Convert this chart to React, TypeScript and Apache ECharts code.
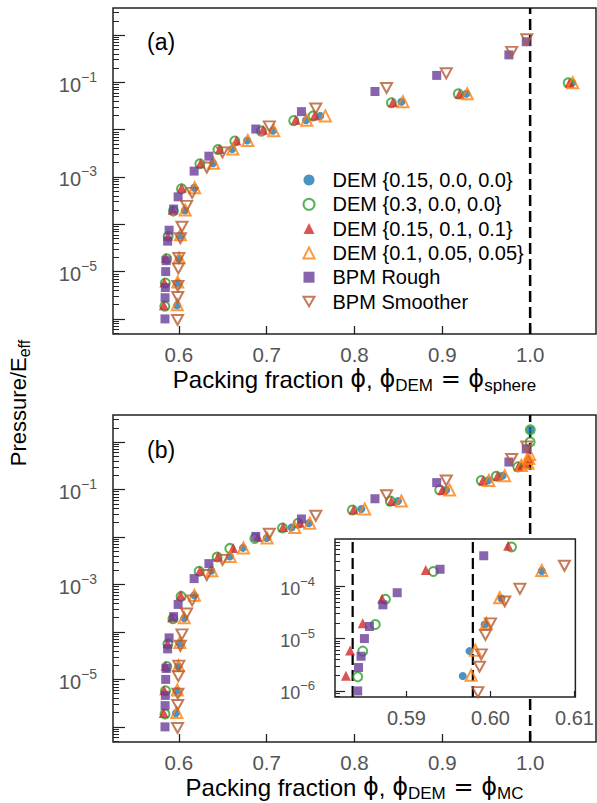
import React, { useEffect, useRef } from "react";
import * as echarts from "echarts";

// ---------- tick values / labels ----------
const xTicksMain = [0.6, 0.7, 0.8, 0.9, 1.0];
const xTicksInset = [0.59, 0.6, 0.61];
const yMajorMain = [1e-6, 1e-5, 1e-4, 1e-3, 1e-2, 1e-1, 1];
const yLabelMain = [1e-5, 1e-3, 1e-1];
const yMajorInset = [1e-6, 1e-5, 1e-4];
const yLabelInset = [1e-6, 1e-5, 1e-4];
const minorMultipliers = [2, 3, 4, 5, 6, 7, 8, 9];
const minorDecades = [1e-7, 1e-6, 1e-5, 1e-4, 1e-3, 1e-2, 1e-1, 1];

// reference lines
const phiLimit = [1.0];
const insetJamming = [0.5836, 0.5979];

// ---------- series names ----------
const names = [
  "DEM {0.15, 0.0, 0.0}",
  "DEM {0.3, 0.0, 0.0}",
  "DEM {0.15, 0.1, 0.1}",
  "DEM {0.1, 0.05, 0.05}",
  "BPM Rough",
  "BPM Smoother",
];

// ---------- DEM {0.15, 0.0, 0.0} (blue) ----------
const blueP = [1.93e-6, 5.75e-6, 1.86e-5, 5.8e-5, 1.95e-4, 5.9e-4, 1.95e-3, 3.9e-3, 5.9e-3, 9.5e-3, 1.58e-2, 1.95e-2, 3.9e-2, 5.75e-2, 9.8e-2, 0.155, 0.195, 0.31, 1.82];
const bluePhiMC = [0.5967, 0.5975, 0.5993, 0.6013, 0.6061, 0.6174, 0.637, 0.658, 0.673, 0.7, 0.7284, 0.748, 0.8078, 0.8495, 0.9045, 0.952, 0.9686, 0.989, 1.0002];
const bluePhiSphere = [0.598, 0.5985, 0.6, 0.6015, 0.6068, 0.6174, 0.639, 0.6608, 0.6777, 0.707, 0.7448, 0.761, 0.8534, 0.9273, 1.0479];

// ---------- DEM {0.3, 0.0, 0.0} (green) ----------
const greenP = [1.86e-6, 5.75e-6, 1.86e-5, 5.6e-5, 1.9e-4, 5.6e-4, 1.9e-3, 3.8e-3, 5.75e-3, 9.3e-3, 1.55e-2, 1.95e-2, 3.7e-2, 5.7e-2, 9.8e-2, 0.155, 0.19, 0.3, 1.0, 1.82];
const greenPhiMC = [0.5842, 0.5848, 0.5863, 0.5875, 0.5932, 0.6025, 0.6231, 0.6436, 0.658, 0.6865, 0.718, 0.7357, 0.7976, 0.8408, 0.897, 0.9444, 0.9614, 0.986, 1.0, 1.0002];
const greenPhiSphere = [0.584, 0.5846, 0.5862, 0.5878, 0.5938, 0.603, 0.6239, 0.6445, 0.6637, 0.694, 0.7308, 0.7528, 0.842, 0.9182, 1.0433];

// ---------- DEM {0.15, 0.1, 0.1} (red) ----------
const redP = [1.95e-6, 5.9e-6, 1.95e-5, 5.75e-5, 2.04e-4, 5.9e-4, 1.95e-3, 3.9e-3, 5.9e-3, 1.0e-2, 1.62e-2, 2.0e-2, 3.8e-2, 5.75e-2, 9.8e-2, 0.155, 0.195, 0.31, 0.36, 0.45];
const redPhiMC = [0.5828, 0.5833, 0.5848, 0.5871, 0.5923, 0.6021, 0.624, 0.6447, 0.6618, 0.69, 0.7187, 0.7377, 0.799, 0.842, 0.9, 0.9462, 0.963, 0.987, 0.995, 0.998];
const redPhiSphere = [0.5829, 0.5835, 0.5851, 0.5876, 0.593, 0.6032, 0.6247, 0.6466, 0.6656, 0.6959, 0.7331, 0.7547, 0.8438, 0.9197, 1.0448];

// ---------- DEM {0.1, 0.05, 0.05} (orange) ----------
const orangeP = [2.0e-6, 6.0e-6, 1.95e-5, 6.0e-5, 2.0e-4, 5.9e-4, 1.95e-3, 3.9e-3, 5.9e-3, 9.5e-3, 1.58e-2, 1.95e-2, 3.9e-2, 5.75e-2, 9.8e-2, 0.155, 0.195, 0.32, 0.36, 0.45, 0.55];
const orangePhiMC = [0.5977, 0.5982, 0.5995, 0.6011, 0.6061, 0.6178, 0.6375, 0.6585, 0.6735, 0.7005, 0.732, 0.749, 0.8116, 0.8534, 0.9083, 0.953, 0.971, 0.99, 0.9975, 0.9985, 0.9994];
const orangePhiSphere = [0.5982, 0.5987, 0.6003, 0.6018, 0.6072, 0.618, 0.6395, 0.6615, 0.6785, 0.708, 0.7455, 0.7668, 0.8552, 0.9284, 1.0485];

// ---------- BPM Rough (purple) ----------
const roughP = [1.0e-6, 2.8e-6, 4.6e-6, 1.0e-5, 1.7e-5, 4.4e-5, 7.5e-5, 2.1e-4, 3.8e-4, 1.33e-3, 2.75e-3, 1.03e-2, 2.4e-2, 6.4e-2, 0.14, 0.38, 0.72];
const roughPhi = [0.5842, 0.5843, 0.5846, 0.585, 0.5856, 0.5872, 0.5889, 0.594, 0.5992, 0.6174, 0.6342, 0.6876, 0.7396, 0.8233, 0.8936, 0.9758, 0.9956];

// ---------- BPM Smoother (brown) ----------
const smoothP = [9.5e-7, 2.9e-6, 5.0e-6, 1.17e-5, 1.95e-5, 5.1e-5, 8.9e-5, 2.45e-4, 4.6e-4, 1.58e-3, 3.3e-3, 1.17e-2, 2.8e-2, 7.6e-2, 0.155, 0.44, 0.81];
const smoothPhi = [0.5985, 0.5987, 0.5989, 0.5994, 0.6, 0.6017, 0.6035, 0.6088, 0.6151, 0.6318, 0.6497, 0.703, 0.7559, 0.8365, 0.9045, 0.979, 0.9962];

const FONT = "'Liberation Sans', Arial, Helvetica, sans-serif";
const MATH = "'DejaVu Sans', 'Liberation Sans', sans-serif";
const LABEL_GRAY = "#555";
const FRAME = "#222";

function pairs(xs: number[], ys: number[]) {
  return xs.map((x, i) => [x, ys[i]]);
}

const markerStyles: any[] = [
  { symbol: "circle", symbolSize: 8, itemStyle: { color: "#1f77b4" } },
  { symbol: "circle", symbolSize: 9, itemStyle: { color: "rgba(0,0,0,0)", borderColor: "#2ca02c", borderWidth: 2 } },
  { symbol: "triangle", symbolSize: 10, itemStyle: { color: "#d62728" } },
  { symbol: "triangle", symbolSize: 11, itemStyle: { color: "rgba(0,0,0,0)", borderColor: "#ff7f0e", borderWidth: 2 } },
  { symbol: "rect", symbolSize: 9, itemStyle: { color: "#6a3d9a" } },
  { symbol: "path://M0,0L12,0L6,10.4Z", symbolSize: [11, 10], itemStyle: { color: "rgba(0,0,0,0)", borderColor: "#b55a30", borderWidth: 2 } },
];

function minorValues(lo: number, hi: number) {
  const out: number[] = [];
  minorDecades.forEach((d) => minorMultipliers.forEach((m) => {
    const v = d * m;
    if (v > lo && v < hi) out.push(v);
  }));
  return out;
}

const supRich = {
  b: { fontSize: 20, color: LABEL_GRAY, fontFamily: FONT, lineHeight: 25, verticalAlign: "bottom" },
  e: { fontSize: 14, color: LABEL_GRAY, fontFamily: FONT, lineHeight: 15, verticalAlign: "top" },
};
const supRichInset = {
  b: { fontSize: 18, color: LABEL_GRAY, fontFamily: FONT, lineHeight: 23, verticalAlign: "bottom" },
  e: { fontSize: 13, color: LABEL_GRAY, fontFamily: FONT, lineHeight: 14, verticalAlign: "top" },
};
function powLabel(v: number) {
  const e = Math.round(Math.log10(v));
  return "{b|10}{e|\u2212" + (-e) + "}";
}

const titleRich = {
  m: { fontSize: 24, fontFamily: FONT, color: "#000", lineHeight: 30 },
  p: { fontSize: 24, fontFamily: MATH, color: "#000", lineHeight: 30 },
  s: { fontSize: 17, fontFamily: FONT, color: "#000", lineHeight: 20, verticalAlign: "bottom" },
};
const yTitleRich = {
  m: { fontSize: 22, fontFamily: FONT, color: "#000", lineHeight: 28 },
  s: { fontSize: 16, fontFamily: FONT, color: "#000", lineHeight: 19, verticalAlign: "bottom" },
};

export default function App() {
  const ref = useRef<HTMLDivElement>(null);
  useEffect(() => {
    document.body.style.margin = "0";
    const chart = echarts.init(ref.current!, undefined, { renderer: "svg" });

    const mainYMin = 4.8e-7, mainYMax = 3.72;
    const insetYMin = 7.67e-7, insetYMax = 7.94e-4;

    const xMain = (gridIndex: number, name: string) => ({
      type: "value", gridIndex, min: 0.525, max: 1.075,
      axisLine: { show: false },
      splitLine: { show: false },
      axisTick: { show: true, inside: true, length: 8, customValues: xTicksMain, lineStyle: { color: FRAME, width: 1.3 } },
      axisLabel: { show: true, customValues: xTicksMain, margin: 10, fontSize: 20.5, color: LABEL_GRAY, fontFamily: FONT, formatter: (v: number) => v.toFixed(1) },
      name, nameLocation: "middle", nameGap: 30,
      nameTextStyle: { fontSize: 24, color: "#000", fontFamily: FONT, rich: titleRich },
    });
    const yMajor = (gridIndex: number, min: number, max: number, majors: number[], labels: number[], len: number, margin: number, rich: any, z?: number) => ({
      type: "log", logBase: 10, gridIndex, min, max, position: "left",
      axisLine: { show: false }, splitLine: { show: false }, minorTick: { show: false },
      axisTick: { show: true, inside: true, length: len, customValues: majors, lineStyle: { color: FRAME, width: 1.2 } },
      axisLabel: { show: true, customValues: labels, margin, formatter: powLabel, rich },
      ...(z !== undefined ? { z } : {}),
    });
    const yMinor = (gridIndex: number, min: number, max: number, len: number, z?: number) => ({
      type: "log", logBase: 10, gridIndex, min, max, position: "left",
      axisLine: { show: false }, splitLine: { show: false },
      axisTick: { show: true, inside: true, length: len, customValues: minorValues(min, max), lineStyle: { color: FRAME, width: 1.0 } },
      axisLabel: { show: false },
      ...(z !== undefined ? { z } : {}),
    });

    const dashStyle = { type: [11, 5], color: "#000", width: 2.5 };

    const panelA = [
      pairs(bluePhiSphere, blueP), pairs(greenPhiSphere, greenP), pairs(redPhiSphere, redP),
      pairs(orangePhiSphere, orangeP), pairs(roughPhi, roughP), pairs(smoothPhi, smoothP),
    ];
    const panelB = [
      pairs(bluePhiMC, blueP), pairs(greenPhiMC, greenP), pairs(redPhiMC, redP),
      pairs(orangePhiMC, orangeP), pairs(roughPhi, roughP), pairs(smoothPhi, smoothP),
    ];

    const series: any[] = [];
    phiLimit.forEach((v, k) => {
      series.push({ type: "line", name: "limitA" + k, xAxisIndex: 0, yAxisIndex: 0, data: [[v, mainYMin], [v, mainYMax]], symbol: "none", lineStyle: dashStyle, z: 1, silent: true, emphasis: { disabled: true } });
      series.push({ type: "line", name: "limitB" + k, xAxisIndex: 1, yAxisIndex: 2, data: [[v, mainYMin], [v, mainYMax]], symbol: "none", lineStyle: dashStyle, z: 1, silent: true, emphasis: { disabled: true } });
    });
    insetJamming.forEach((v, k) => {
      series.push({ type: "line", name: "jam" + k, xAxisIndex: 2, yAxisIndex: 4, data: [[v, insetYMin], [v, insetYMax]], symbol: "none", lineStyle: { ...dashStyle, width: 2.2 }, z: 12, silent: true, emphasis: { disabled: true } });
    });

    panelA.forEach((data, i) => series.push({
      type: "scatter", name: names[i], xAxisIndex: 0, yAxisIndex: 0, data, ...markerStyles[i],
      z: 2, emphasis: { disabled: true },
    }));
    panelB.forEach((data, i) => series.push({
      type: "scatter", name: names[i], xAxisIndex: 1, yAxisIndex: 2, data, ...markerStyles[i],
      z: 2, emphasis: { disabled: true },
    }));
    panelB.forEach((data, i) => series.push({
      type: "scatter", name: names[i], xAxisIndex: 2, yAxisIndex: 4, data, ...markerStyles[i],
      z: 13, clip: true, emphasis: { disabled: true },
    }));

    chart.setOption({
      animation: false,
      backgroundColor: "#fff",
      textStyle: { fontFamily: FONT },
      grid: [
        { left: 113, top: 8, width: 483, height: 326, show: true, borderColor: FRAME, borderWidth: 1.5, backgroundColor: "rgba(0,0,0,0)", z: 0 },
        { left: 113, top: 415, width: 483, height: 328, show: true, borderColor: FRAME, borderWidth: 1.5, backgroundColor: "rgba(0,0,0,0)", z: 0 },
        { left: 335, top: 539, width: 242, height: 158, show: true, borderColor: FRAME, borderWidth: 1.5, backgroundColor: "#fff", z: 10 },
      ],
      xAxis: [
        xMain(0, "{m|Packing fraction }{p|\u03d5}{m|, }{p|\u03d5}{s|DEM}{p| = \u03d5}{s|sphere}"),
        xMain(1, "{m|Packing fraction }{p|\u03d5}{m|, }{p|\u03d5}{s|DEM}{p| = \u03d5}{s|MC}"),
        {
          type: "value", gridIndex: 2, min: 0.5815, max: 0.6101, z: 11,
          axisLine: { show: false }, splitLine: { show: false },
          axisTick: { show: true, inside: true, length: 6, customValues: xTicksInset, lineStyle: { color: FRAME, width: 1.2 } },
          axisLabel: { show: true, customValues: xTicksInset, margin: 11, fontSize: 20, color: LABEL_GRAY, fontFamily: FONT, formatter: (v: number) => v.toFixed(2) },
        },
      ],
      yAxis: [
        yMajor(0, mainYMin, mainYMax, yMajorMain, yLabelMain, 12, 16, supRich),
        yMinor(0, mainYMin, mainYMax, 6),
        yMajor(1, mainYMin, mainYMax, yMajorMain, yLabelMain, 12, 16, supRich),
        yMinor(1, mainYMin, mainYMax, 6),
        yMajor(2, insetYMin, insetYMax, yMajorInset, yLabelInset, 10, 20, supRichInset, 11),
        yMinor(2, insetYMin, insetYMax, 5, 11),
      ],
      legend: {
        show: true, data: names, orient: "vertical", left: 297.5, top: 165,
        itemWidth: 11, itemHeight: 11, itemGap: 4.3, selectedMode: false,
        textStyle: { fontSize: 20, color: "#000", fontFamily: FONT, lineHeight: 20, padding: [0, 0, 0, 13] },
      },
      graphic: [
        { type: "text", x: 147, y: 42, style: { text: "(a)", fontSize: 23, fontFamily: FONT, fill: "#000", verticalAlign: "middle" } },
        { type: "text", x: 147, y: 450, style: { text: "(b)", fontSize: 23, fontFamily: FONT, fill: "#000", verticalAlign: "middle" } },
        {
          type: "text", x: 18, y: 403, rotation: Math.PI / 2,
          style: {
            text: "{m|Pressure/E}{s|eff}", align: "center", verticalAlign: "middle", fill: "#000",
            rich: yTitleRich,
          },
        },
      ],
      series,
    });
    return () => chart.dispose();
  }, []);
  return <div ref={ref} style={{ width: 597, height: 803 }} />;
}
